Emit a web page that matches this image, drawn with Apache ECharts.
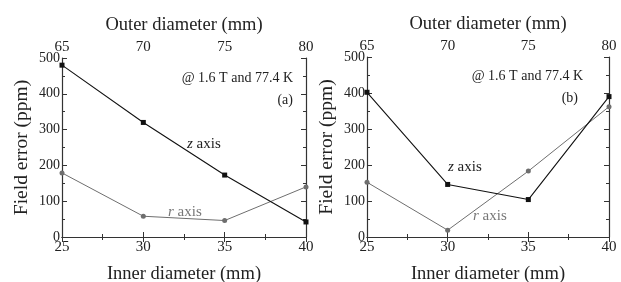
<!DOCTYPE html>
<html><head><meta charset="utf-8">
<script src="https://cdn.jsdelivr.net/npm/echarts@6/dist/echarts.min.js"></script>
<style>html,body{margin:0;padding:0;background:#fff}#c{width:621px;height:282px}</style>
</head><body><div id="c"></div>
<script>
const innerDiam = [25, 30, 35, 40];
const outerTicks = [65, 70, 75, 80];
const zA = [480, 320, 173, 42];
const rA = [179, 58, 46, 140];
const zB = [402, 146, 104, 390];
const rB = [152, 19, 183, 362];

const FONT = '"Liberation Serif", "DejaVu Serif", serif';
const AX = '#333';
const chart = echarts.init(document.getElementById('c'));

function xBottom(g) {
  return { type: 'value', gridIndex: g, position: 'bottom', min: 25, max: 40, interval: 5,
    name: 'Inner diameter (mm)', nameLocation: 'middle', nameGap: 28,
    nameTextStyle: { fontFamily: FONT, fontSize: 18.5, color: '#222' },
    axisLine: { lineStyle: { color: AX, width: 1.2 } },
    axisTick: { inside: true, length: 5, lineStyle: { color: AX } },
    minorTick: { show: true, splitNumber: 2, length: 3, lineStyle: { color: AX } },
    axisLabel: { fontFamily: FONT, fontSize: 15, color: '#222', margin: 3 },
    splitLine: { show: false } };
}
function xTop(g) {
  return { type: 'value', gridIndex: g, position: 'top', min: 25, max: 40, interval: 5,
    name: 'Outer diameter (mm)', nameLocation: 'middle', nameGap: 23,
    nameTextStyle: { fontFamily: FONT, fontSize: 18.5, color: '#222' },
    axisLine: { lineStyle: { color: AX, width: 1.2 } },
    axisTick: { inside: true, length: 5, lineStyle: { color: AX } },
    minorTick: { show: true, splitNumber: 2, length: 3, lineStyle: { color: AX } },
    axisLabel: { fontFamily: FONT, fontSize: 15, color: '#222', margin: 3,
      formatter: v => String(outerTicks[innerDiam.indexOf(v)]) },
    splitLine: { show: false } };
}
function yLeft(g) {
  return { type: 'value', gridIndex: g, position: 'left', min: 0, max: 500, interval: 100,
    name: 'Field error (ppm)', nameLocation: 'middle', nameGap: 30,
    nameTextStyle: { fontFamily: FONT, fontSize: 19.5, color: '#222' },
    axisLine: { show: true, lineStyle: { color: AX, width: 1.2 } },
    axisTick: { show: true, inside: true, length: 5, lineStyle: { color: AX } },
    minorTick: { show: true, splitNumber: 2, length: 3, lineStyle: { color: AX } },
    axisLabel: { fontFamily: FONT, fontSize: 14, color: '#222', margin: 2 },
    splitLine: { show: false } };
}
function yRight(g) {
  return { type: 'value', gridIndex: g, position: 'right', min: 0, max: 500, interval: 100,
    axisLine: { show: true, lineStyle: { color: AX, width: 1.2 } },
    axisTick: { show: true, inside: true, length: 5, lineStyle: { color: AX } },
    minorTick: { show: true, splitNumber: 2, length: 3, lineStyle: { color: AX } },
    axisLabel: { show: false }, splitLine: { show: false } };
}
function pairs(ys) { return innerDiam.map((x, i) => [x, ys[i]]); }
function zSeries(xi, yi, ys) {
  return { type: 'line', xAxisIndex: xi, yAxisIndex: yi, data: pairs(ys), symbol: 'rect', symbolSize: 5,
    lineStyle: { color: '#111', width: 1.1 }, itemStyle: { color: '#111' }, z: 3 };
}
function rSeries(xi, yi, ys) {
  return { type: 'line', xAxisIndex: xi, yAxisIndex: yi, data: pairs(ys), symbol: 'circle', symbolSize: 5,
    lineStyle: { color: '#6e6e6e', width: 1 }, itemStyle: { color: '#6e6e6e' }, z: 2 };
}
function txt(x, y, t, opt) {
  return Object.assign({ type: 'text', x: x, y: y, style: Object.assign({ text: t, fontFamily: FONT, fontSize: 14, fill: '#222' }, opt || {}) });
}
function axisLabelRich(x, y, letter, color) {
  return { type: 'text', x: x, y: y, style: { text: '{i|' + letter + '} axis', fontFamily: FONT, fontSize: 15, fill: color,
    rich: { i: { fontFamily: FONT, fontStyle: 'italic', fontSize: 15, fill: color } } } };
}

chart.setOption({
  animation: false,
  grid: [
    { left: 62, top: 58, width: 244, height: 179, outerBoundsMode: 'none', containLabel: false },
    { left: 367, top: 57, width: 242, height: 180, outerBoundsMode: 'none', containLabel: false }
  ],
  xAxis: [xBottom(0), xTop(0), xBottom(1), xTop(1)],
  yAxis: [yLeft(0), yRight(0), yLeft(1), yRight(1)],
  series: [
    rSeries(0, 0, rA), zSeries(0, 0, zA),
    rSeries(2, 2, rB), zSeries(2, 2, zB)
  ],
  graphic: [
    txt(293, 71, '@ 1.6 T and 77.4 K', { align: 'right' }),
    txt(293, 93, '(a)', { align: 'right' }),
    axisLabelRich(187, 137, 'z', '#222'),
    axisLabelRich(168, 205, 'r', '#777'),
    txt(583, 69, '@ 1.6 T and 77.4 K', { align: 'right' }),
    txt(578, 91, '(b)', { align: 'right' }),
    axisLabelRich(448, 160, 'z', '#222'),
    axisLabelRich(473, 209, 'r', '#777')
  ]
});
</script></body></html>
